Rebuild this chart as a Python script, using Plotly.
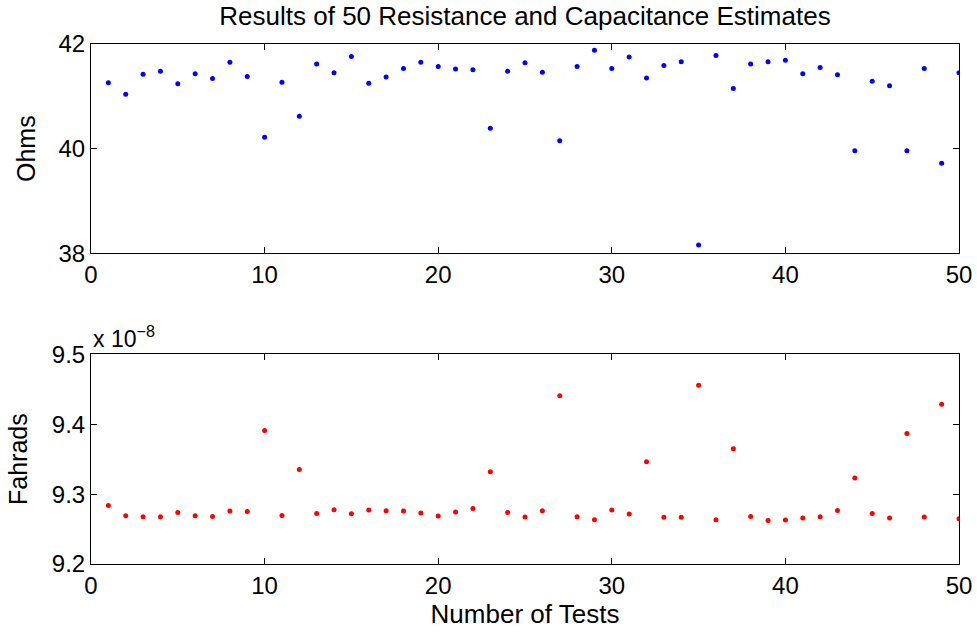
import plotly.graph_objects as go
from plotly.subplots import make_subplots

tests = list(range(1, 51))

resistance_ohms = [
    41.26, 41.04, 41.42, 41.48, 41.24, 41.43, 41.34, 41.65, 41.38, 40.22,
    41.27, 40.62, 41.62, 41.45, 41.76, 41.25, 41.37, 41.53, 41.65, 41.57,
    41.52, 41.51, 40.39, 41.48, 41.64, 41.46, 40.15, 41.57, 41.88, 41.53,
    41.75, 41.35, 41.59, 41.66, 38.16, 41.78, 41.15, 41.62, 41.66, 41.69,
    41.43, 41.55, 41.41, 39.96, 41.29, 41.20, 39.96, 41.53, 39.72, 41.45,
]

# capacitance in units of 1e-8 F
capacitance_e8 = [
    9.2838, 9.2690, 9.2676, 9.2676, 9.2738, 9.2690, 9.2681, 9.2757, 9.2752, 9.3910,
    9.2695, 9.3352, 9.2724, 9.2776, 9.2719, 9.2771, 9.2762, 9.2757, 9.2729, 9.2686,
    9.2743, 9.2795, 9.3319, 9.2738, 9.2671, 9.2762, 9.4405, 9.2676, 9.2633, 9.2771,
    9.2714, 9.3462, 9.2667, 9.2667, 9.4557, 9.2633, 9.3648, 9.2681, 9.2624, 9.2629,
    9.2657, 9.2676, 9.2767, 9.3229, 9.2724, 9.2657, 9.3867, 9.2671, 9.4286, 9.2648,
]

x_ticks = [0, 10, 20, 30, 40, 50]
ohm_ticks = [38, 40, 42]
cap_ticks = [9.2, 9.3, 9.4, 9.5]

FONT = "Liberation Sans, Arial, Helvetica, sans-serif"

fig = make_subplots(rows=2, cols=1, shared_xaxes=False, vertical_spacing=0.1)

fig.add_trace(go.Scatter(x=tests, y=resistance_ohms, mode="markers",
                         marker=dict(color="#0000ff", size=5), showlegend=False),
              row=1, col=1)
fig.add_trace(go.Scatter(x=tests, y=capacitance_e8, mode="markers",
                         marker=dict(color="#ff0000", size=5), showlegend=False),
              row=2, col=1)

axis_common = dict(showline=True, linecolor="black", linewidth=1, mirror="ticks",
                   ticks="inside", ticklen=6, tickcolor="black", showgrid=False,
                   zeroline=False, automargin=False,
                   tickfont=dict(size=24, color="black", family=FONT))

fig.update_xaxes(range=[0, 50], tickvals=x_ticks, **axis_common)
fig.update_xaxes(domain=[0, 1])
fig.update_yaxes(range=[38, 42], tickvals=ohm_ticks, row=1, col=1, **axis_common)
fig.update_yaxes(range=[9.2, 9.5], tickvals=cap_ticks, tickformat=".1f", row=2, col=1, **axis_common)

fig.layout.yaxis.domain = [0.5975, 1.0]
fig.layout.yaxis2.domain = [0.0, 0.4033]

fig.update_yaxes(title=dict(text="Ohms", font=dict(size=25, family=FONT, color="black"), standoff=15), row=1, col=1)
fig.update_yaxes(title=dict(text="Fahrads", font=dict(size=25, family=FONT, color="black"), standoff=17), row=2, col=1)
fig.update_xaxes(title=dict(text="Number of Tests", font=dict(size=26, family=FONT, color="black"), standoff=0), row=2, col=1)

fig.add_annotation(text="x 10<sup>−8</sup>", xref="paper", yref="paper", x=0, y=0.4033,
                   xanchor="left", yanchor="bottom", showarrow=False, yshift=0,
                   font=dict(size=23, family=FONT, color="black"))

fig.update_layout(
    width=977, height=636,
    margin=dict(l=91, r=18, t=44, b=72, autoexpand=False),
    paper_bgcolor="white", plot_bgcolor="white",
    title=dict(text="Results of 50 Resistance and Capacitance Estimates",
               x=0.5, xref="paper", xanchor="center", y=1 - 16 / 636, yanchor="middle",
               font=dict(size=26, family=FONT, color="black")),
    font=dict(family=FONT, color="black"),
)

fig.write_html("out.html", config={"displayModeBar": False},
               post_script="document.body.style.margin='0';document.body.style.padding='0';")
